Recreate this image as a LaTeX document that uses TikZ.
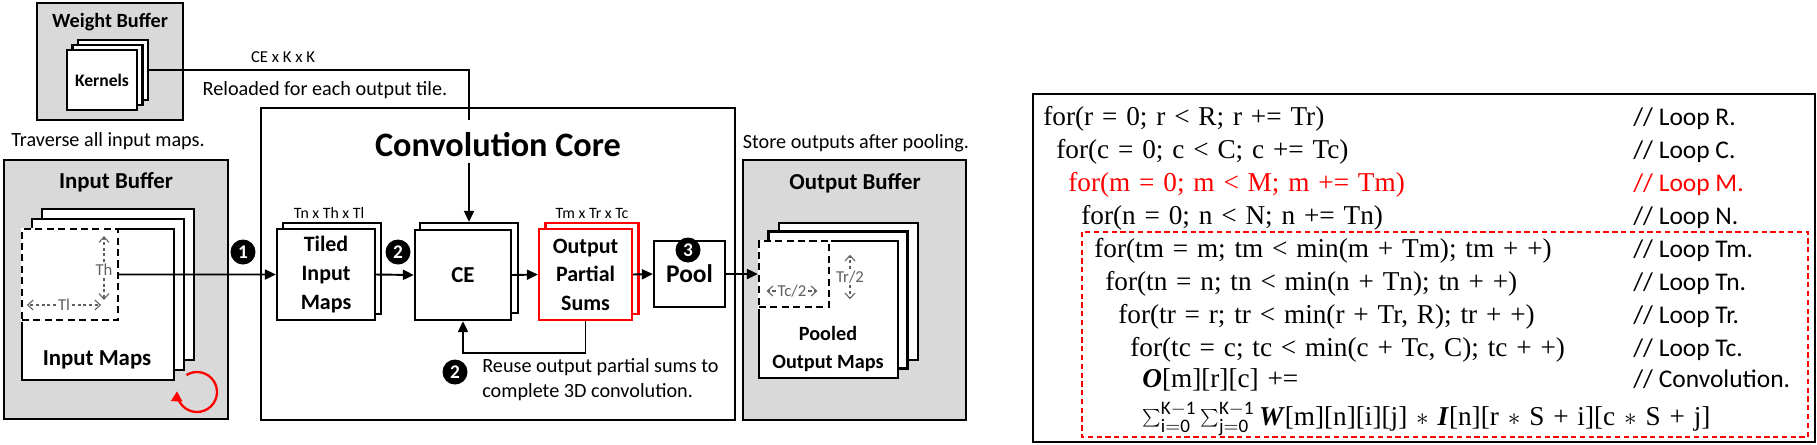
\documentclass[tikz,border=0pt]{standalone}
\usepackage{fontspec}
\setmainfont{Carlito}
\newfontfamily\codefont[WordSpace=1.3]{Liberation Serif}
\usepackage{tikz}
\usetikzlibrary{arrows.meta, positioning, calc}
\definecolor{bufgray}{RGB}{217,217,217}
\definecolor{dimgray}{RGB}{95,95,95}
\newcommand{\sz}[2]{\fontsize{#1}{#2}\selectfont}

\begin{document}
\begin{tikzpicture}[
    x=0.02cm, y=-0.02cm,
    buffer/.style={draw, line width=1.5pt, fill=bufgray, inner sep=0pt},
    sheet/.style={draw, line width=1.3pt, fill=white, inner sep=0pt, align=center},
    redsheet/.style={sheet, draw=red},
    tile/.style={draw, line width=1.3pt, dash pattern=on 4pt off 2.5pt, inner sep=0pt,
        preaction={draw=white, solid, line width=1.7pt}},
    dim/.style={draw=dimgray, line width=0.6pt, dash pattern=on 1.8pt off 1.4pt, -{Straight Barb[length=1.1mm, width=2mm]}},
    dimlabel/.style={text=dimgray, inner sep=1pt, font=\sz{9.5}{11}},
    note/.style={inner sep=0pt, font=\sz{11.5}{14}},
    wire/.style={line width=1.1pt},
    arrow/.style={-{Triangle[length=2.2mm, width=2mm]}, line width=1.1pt},
    numdot/.style={circle, fill=black, text=white, inner sep=0pt, minimum size=0.5cm, font=\bfseries\sz{11}{12}},
    code/.style={anchor=base west, inner sep=0pt, font=\codefont\sz{15.5}{18}},
    cmt/.style={anchor=base west, inner sep=0pt, font=\sz{14.5}{17}}
]
\useasboundingbox (0,0) rectangle (1817,444);
\fill[white] (0,0) rectangle (1817,444);

% weight buffer
\node[buffer, minimum width=2.92cm, minimum height=2.34cm] (wbuf) at (110,61.5) {};
\node[font=\bfseries\sz{11.5}{13}] (wtitle) at (110,22) {Weight Buffer};
\node[sheet, minimum width=1.4cm, minimum height=1.2cm] (kern3) at (113,70) {};
\node[sheet, minimum width=1.4cm, minimum height=1.2cm] (kern2) at (107.5,75) {};
\node[sheet, minimum width=1.4cm, minimum height=1.2cm, font=\bfseries\sz{10}{12}] (kern) at (102,80) {Kernels};
\node[font=\sz{9.5}{11}] (cekk) at (283,57) {CE x K x K};
\node[note] (reload) at (325,90) {Reloaded for each output tile.};

% convolution core
\node[draw, line width=1.3pt, fill=white, minimum width=9.48cm, minimum height=6.24cm] (core) at (498,264) {};
\node[font=\bfseries\sz{19.5}{22}] (coretitle) at (498,145) {Convolution Core};
\coordinate (wfeed) at (469,120);
\draw[wire] (kern3.east) -| (wfeed);

% input buffer
\node[note] (trav) at (108,141) {Traverse all input maps.};
\node[buffer, minimum width=4.48cm, minimum height=5.18cm] (ibuf) at (116,289.5) {};
\node[font=\bfseries\sz{13}{15}] (ititle) at (116,182) {Input Buffer};
\node[sheet, minimum width=3.04cm, minimum height=3.02cm] (imap3) at (118,284.5) {};
\node[sheet, minimum width=3.04cm, minimum height=3.02cm] (imap2) at (108,294.5) {};
\node[sheet, minimum width=3.04cm, minimum height=3.02cm] (imap) at (98,304.5) {};
\node[tile, minimum width=1.92cm, minimum height=1.82cm, anchor=north west] (itile) at (imap.north west) {};
\node[font=\bfseries\sz{13}{15}] (imaplabel) at (97,360) {Input Maps};
\node[dimlabel] (th) at (104,270) {Th};
\draw[dim] (th.north) -- ++(0,-26);
\draw[dim] (th.south) -- ++(0,22);
\node[dimlabel] (tl) at (64,305) {Tl};
\draw[dim] (tl.west) -- ++(-29,0);
\draw[dim] (tl.east) -- ++(29,0);
\coordinate (loopc) at (197,392);
\draw[red, line width=1.3pt, -{Triangle[length=2mm, width=2.2mm]}]
    ([shift={(122:0.4cm)}]loopc) arc[start angle=122, end angle=-182, radius=0.4cm];

% blocks inside the core
\node[sheet, minimum width=1.96cm, minimum height=1.82cm] (tiled2) at (332,268.5) {};
\node[sheet, minimum width=1.96cm, minimum height=1.82cm, font=\bfseries\sz{12.5}{16.5}] (tiled) at (326,274.5) {Tiled\\Input\\Maps};
\node[font=\sz{9}{10}] (tdim) at (329,213) {Tn x Th x Tl};
\node[sheet, minimum width=1.96cm, minimum height=1.8cm] (ce2) at (469,268) {};
\node[sheet, minimum width=1.92cm, minimum height=1.8cm, font=\bfseries\sz{13}{15}] (ce) at (463,275) {CE};
\node[redsheet, minimum width=1.86cm, minimum height=1.82cm] (ops2) at (592,268.5) {};
\node[redsheet, minimum width=1.86cm, minimum height=1.82cm, font=\bfseries\sz{12.5}{16.2}] (ops) at (585.5,274.5) {Output\\Partial\\Sums};
\node[font=\sz{9}{10}] (odim) at (592,213) {Tm x Tr x Tc};
\node[sheet, minimum width=1.42cm, minimum height=1.32cm, font=\bfseries\sz{14.5}{16}] (pool) at (689.5,274) {\raisebox{-2pt}{Pool}};

% output buffer
\node[note] (store) at (856,143) {Store outputs after pooling.};
\node[buffer, minimum width=4.46cm, minimum height=5.2cm] (obuf) at (854.5,290) {};
\node[font=\bfseries\sz{13}{15}] (otitle) at (855,183) {Output Buffer};
\node[sheet, minimum width=2.78cm, minimum height=2.74cm] (pmap3) at (848.5,291.5) {};
\node[sheet, minimum width=2.78cm, minimum height=2.74cm] (pmap2) at (838,300) {};
\node[sheet, minimum width=2.78cm, minimum height=2.74cm] (pmap) at (828.5,309.5) {};
\node[tile, minimum width=1.4cm, minimum height=1.32cm, anchor=north west] (otile) at (pmap.north west) {};
\node[font=\bfseries\sz{11.5}{15.4}, align=center] (plabel) at (828,349) {Pooled\\Output Maps};
\node[dimlabel] (tc) at (792,291) {Tc/2};
\draw[dim] (tc.west) -- ++(-9,0);
\draw[dim] (tc.east) -- ++(9,0);
\node[dimlabel] (tr) at (850,277) {Tr/2};
\draw[dim] (tr.north) -- ++(0,-14);
\draw[dim] (tr.south) -- ++(0,14);

% data flow
\draw[arrow] (coretitle.south -| ce2.north) -- (ce2.north);
\draw[arrow] (itile.east) -- (tiled.west);
\draw[arrow] (tiled.east) -- (ce.west);
\draw[arrow] (ce.east) -- (ops.west);
\draw[arrow] (ops.east) -- (pool.west);
\draw[arrow] (pool.east) -- (pool.east -| otile.west);
\draw[arrow] (ops.south) -- ++(0,32) -| (ce.south);
\node[numdot] (n1) at (243,252) {1};
\node[numdot] (n2) at (398,252) {2};
\node[numdot] (n3) at (688,250) {3};
\node[numdot] (n2b) at (455,372) {2};
\node[note, align=left, anchor=west, font=\sz{11.5}{14.2}] (reuse) at (482,380) {Reuse output partial sums to\\complete 3D convolution.};

% loop nest
\draw[line width=0.9pt] (1033,94) rectangle (1815,442);
\draw[red, line width=1.1pt, dash pattern=on 3pt off 2pt] (1082,232) rectangle (1808,437);
\coordinate (cx) at (1633,0);
\node[code] (l1) at (1043,125) {for(r = 0; r < R; r += Tr)};
\node[code] (l2) at (1056,158) {for(c = 0; c < C; c += Tc)};
\node[code, text=red] (l3) at (1068,191) {for(m = 0; m < M; m += Tm)};
\node[code] (l4) at (1081,224) {for(n = 0; n < N; n += Tn)};
\node[code] (l5) at (1094,257) {for(tm = m; tm < min(m + Tm); tm + +)};
\node[code] (l6) at (1105,290) {for(tn = n; tn < min(n + Tn); tn + +)};
\node[code] (l7) at (1118,323) {for(tr = r; tr < min(r + Tr, R); tr + +)};
\node[code] (l8) at (1130,356) {for(tc = c; tc < min(c + Tc, C); tc + +)};
\node[code] (l9) at (1142,387) {\textbf{\textit{O}}[m][r][c] +=};
\node[code] (l10) at (1142,425) {$\sum_{\mathrm{i=0}}^{\mathrm{K-1}}\sum_{\mathrm{j=0}}^{\mathrm{K-1}}$\,\textbf{\textit{W}}[m][n][i][j] $\ast$ \textbf{\textit{I}}[n][r $\ast$ S + i][c $\ast$ S + j]};
\node[cmt] (c1) at (l1.base -| cx) {// Loop R.};
\node[cmt] (c2) at (l2.base -| cx) {// Loop C.};
\node[cmt, text=red] (c3) at (l3.base -| cx) {// Loop M.};
\node[cmt] (c4) at (l4.base -| cx) {// Loop N.};
\node[cmt] (c5) at (l5.base -| cx) {// Loop Tm.};
\node[cmt] (c6) at (l6.base -| cx) {// Loop Tn.};
\node[cmt] (c7) at (l7.base -| cx) {// Loop Tr.};
\node[cmt] (c8) at (l8.base -| cx) {// Loop Tc.};
\node[cmt] (c9) at (l9.base -| cx) {// Convolution.};

\end{tikzpicture}
\end{document}
